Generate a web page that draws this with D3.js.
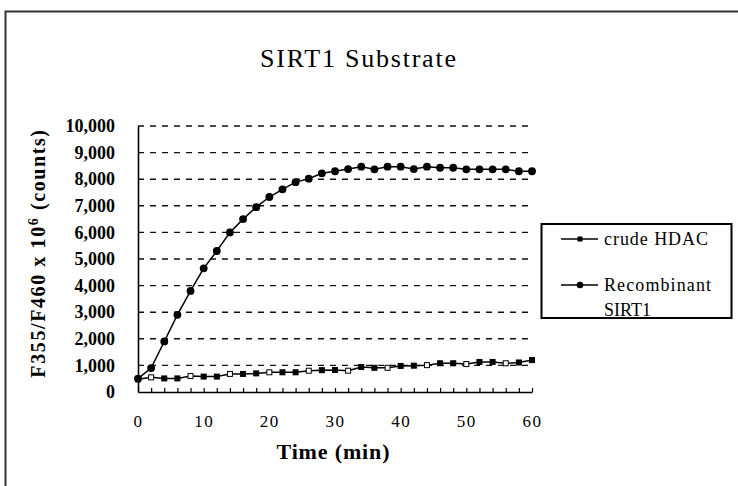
<!DOCTYPE html>
<html>
<head>
<meta charset="utf-8">
<script src="https://cdn.jsdelivr.net/npm/d3@7"></script>
<style>
  html, body { margin: 0; padding: 0; background: #fff; }
  svg { display: block; }
  text { font-family: "Liberation Serif", "Times New Roman", serif; fill: #000; }
</style>
</head>
<body>
<svg id="chart" width="738" height="486"></svg>
<script>
// ---- Data ----
const times = [0,2,4,6,8,10,12,14,16,18,20,22,24,26,28,30,32,34,36,38,40,42,44,46,48,50,52,54,56,58,60];
const crudeHDAC = [480,550,510,510,600,580,580,680,680,700,740,740,740,800,820,830,800,940,910,910,980,990,1010,1080,1080,1050,1130,1130,1080,1110,1200];
const recombinantSIRT1 = [500,900,1900,2900,3800,4650,5300,6000,6500,6950,7330,7620,7890,8020,8220,8300,8380,8470,8370,8470,8470,8380,8470,8430,8430,8370,8370,8370,8370,8300,8300];
const seriesNames = ["crude HDAC", "Recombinant SIRT1"];
const yTicks = [0,1000,2000,3000,4000,5000,6000,7000,8000,9000,10000];
const xTicks = [0,10,20,30,40,50,60];
const chartTitle = "SIRT1 Substrate";
const xTitle = "Time (min)";

// ---- Layout ----
const svg = d3.select("#chart");
const X0 = 138, X1 = 532, Y0 = 392, Y1 = 126;
const x = d3.scaleLinear().domain([0, 60]).range([X0, X1]);
const y = d3.scaleLinear().domain([0, 10000]).range([Y0, Y1]);

svg.append("rect").attr("width", 738).attr("height", 486).attr("fill", "#fff");

// outer frame
svg.append("path")
  .attr("d", "M5.5,486 L5.5,11.5 L738,11.5")
  .attr("fill", "none").attr("stroke", "#333").attr("stroke-width", 2);

// title
svg.append("text")
  .attr("x", 358).attr("y", 67)
  .attr("text-anchor", "middle")
  .attr("font-size", 26)
  .attr("textLength", 196).attr("lengthAdjust", "spacing")
  .text(chartTitle);

// gridlines
svg.append("g").selectAll("line")
  .data(yTicks.filter(d => d > 0))
  .join("line")
  .attr("x1", X0).attr("x2", 528)
  .attr("y1", d => y(d)).attr("y2", d => y(d))
  .attr("stroke", "#111").attr("stroke-width", 1.4)
  .attr("stroke-dasharray", "6,6");

// y axis
const yAxis = svg.append("g")
  .attr("transform", `translate(${X0},0)`)
  .call(d3.axisLeft(y).tickValues(yTicks).tickSize(0).tickPadding(23)
        .tickFormat(d3.format(",")));
yAxis.select(".domain").attr("stroke", "#000").attr("stroke-width", 1.6);
yAxis.selectAll("text")
  .style("font-family", '"Liberation Serif", serif')
  .attr("font-size", 18).attr("font-weight", "bold");

// x axis
const xAxis = svg.append("g")
  .attr("transform", `translate(0,${Y0})`)
  .call(d3.axisBottom(x).tickValues(times).tickSize(-4).tickSizeOuter(0).tickPadding(23)
        .tickFormat(d => xTicks.includes(d) ? d : ""));
xAxis.select(".domain").attr("stroke", "#000").attr("stroke-width", 1.6);
xAxis.selectAll(".tick line").attr("stroke", "#000").attr("stroke-width", 1.2);
xAxis.selectAll("text")
  .style("font-family", '"Liberation Serif", serif')
  .attr("font-size", 17).attr("letter-spacing", 1.5);

// axis titles
svg.append("text")
  .attr("x", 333).attr("y", 459)
  .attr("text-anchor", "middle")
  .attr("font-size", 22).attr("font-weight", "bold")
  .attr("textLength", 113).attr("lengthAdjust", "spacing")
  .text(xTitle);

const yt = svg.append("text")
  .attr("transform", "translate(45,253) rotate(-90)")
  .attr("text-anchor", "middle")
  .attr("font-size", 20).attr("font-weight", "bold")
  .attr("letter-spacing", 1.6);
yt.append("tspan").text("F355/F460 x 10");
yt.append("tspan").attr("dy", -7).attr("font-size", 14).text("6");
yt.append("tspan").attr("dy", 7).text(" (counts)");

// lines
const line = d3.line().x((d, i) => x(times[i])).y(d => y(d));
svg.append("path").datum(crudeHDAC)
  .attr("d", line).attr("fill", "none").attr("stroke", "#000").attr("stroke-width", 1.5);
svg.append("path").datum(recombinantSIRT1)
  .attr("d", line).attr("fill", "none").attr("stroke", "#000").attr("stroke-width", 1.5);

// markers
svg.append("g").selectAll("rect")
  .data(crudeHDAC)
  .join("rect")
  .attr("x", (d, i) => x(times[i]) - 2.5).attr("y", d => y(d) - 2.5)
  .attr("width", 5).attr("height", 5)
  .attr("fill", (d, i) => (i % 3 === 1 ? "#fff" : "#000"))
  .attr("stroke", "#000").attr("stroke-width", 1);

svg.append("g").selectAll("path")
  .data(recombinantSIRT1)
  .join("path")
  .attr("transform", (d, i) => `translate(${x(times[i])},${y(d)})`)
  .attr("d", d3.symbol(d3.symbolCircle, 48))
  .attr("fill", "#000");

// legend
const lg = svg.append("g");
lg.append("rect")
  .attr("x", 541.5).attr("y", 224).attr("width", 190).attr("height", 94)
  .attr("fill", "#fff").attr("stroke", "#000").attr("stroke-width", 2);
const ly = [239, 285];
ly.forEach((yy, i) => {
  lg.append("line").attr("x1", 561).attr("x2", 598).attr("y1", yy).attr("y2", yy)
    .attr("stroke", "#000").attr("stroke-width", 1.5);
  if (i === 0) {
    lg.append("rect").attr("x", 577.5).attr("y", yy - 2.5).attr("width", 5).attr("height", 5).attr("fill", "#000");
  } else {
    lg.append("circle").attr("cx", 580).attr("cy", yy).attr("r", 3.3).attr("fill", "#000");
  }
});
lg.append("text").attr("x", 604).attr("y", 245).attr("font-size", 18)
  .attr("textLength", 104).attr("lengthAdjust", "spacing").text(seriesNames[0]);
const parts = seriesNames[1].split(" ");
lg.append("text").attr("x", 604).attr("y", 291).attr("font-size", 18)
  .attr("textLength", 107).attr("lengthAdjust", "spacing").text(parts[0]);
lg.append("text").attr("x", 604).attr("y", 316).attr("font-size", 18).text(parts[1]);
</script>
</body>
</html>
